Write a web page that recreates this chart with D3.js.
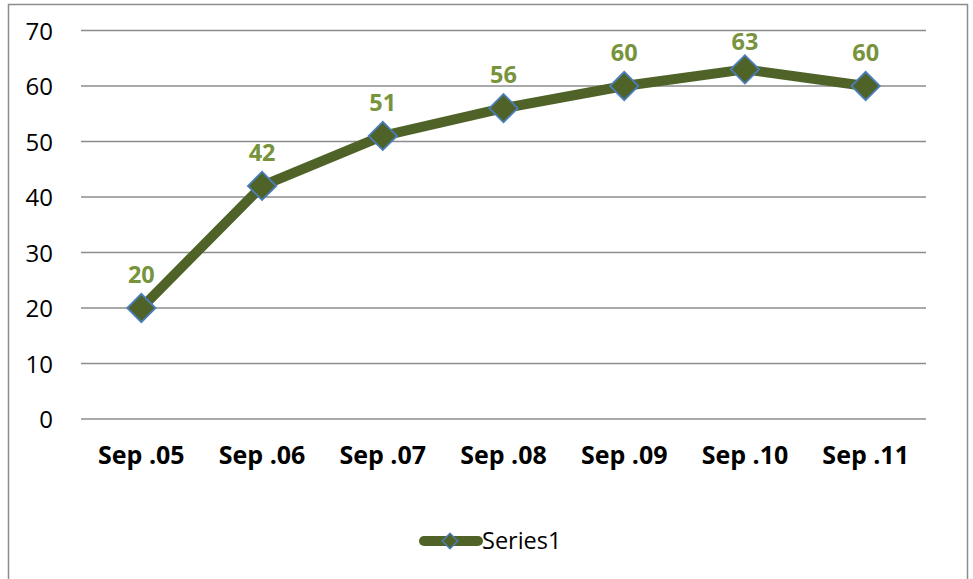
<!DOCTYPE html>
<html>
<head>
<meta charset="utf-8">
<script src="https://cdn.jsdelivr.net/npm/d3@7"></script>
<style>
  body { margin: 0; background: #fff; }
  svg { display: block; font-family: "Open Sans", sans-serif; }
</style>
</head>
<body>
<svg width="973" height="579"></svg>
<script>
// chart data
var categories = ["Sep .05", "Sep .06", "Sep .07", "Sep .08", "Sep .09", "Sep .10", "Sep .11"];
var series1 = [20, 42, 51, 56, 60, 63, 60];
var yTicks = [0, 10, 20, 30, 40, 50, 60, 70];

var lineColor = "#4f6228";
var labelColor = "#77933c";
var markerStroke = "#4a7ebb";
var font = "'Open Sans', sans-serif";

var svg = d3.select("svg");

// outer frame (bottom edge runs off the picture)
svg.append("rect")
  .attr("x", 8.5).attr("y", 4.5)
  .attr("width", 959).attr("height", 600)
  .attr("fill", "none").attr("stroke", "#8c8c8c").attr("stroke-width", 1.5);

var x = d3.scaleBand().domain(categories).range([81, 926]);
var y = d3.scaleLinear().domain([0, 70]).range([419, 30.5]);

// gridlines
svg.append("g")
  .selectAll("line")
  .data(yTicks)
  .enter()
    .append("line")
      .attr("x1", 81).attr("x2", 926)
      .attr("y1", function(d) { return y(d); })
      .attr("y2", function(d) { return y(d); })
      .attr("stroke", "#8c8c8c").attr("stroke-width", 1.5);

// y axis labels
var yAxis = d3.axisLeft(y).tickValues(yTicks).tickSize(0).tickPadding(28);
var gy = svg.append("g").attr("transform", "translate(81,0)").call(yAxis);
gy.select(".domain").remove();
gy.selectAll("text").attr("font-size", 24).attr("font-family", font).attr("fill", "#000")
  .attr("dy", "0.36em");

// x axis labels
var xAxis = d3.axisBottom(x).tickSize(0);
var gx = svg.append("g").attr("transform", "translate(0,419)").call(xAxis);
gx.select(".domain").remove();
gx.selectAll("text").attr("font-size", 25).attr("font-weight", "bold")
  .attr("font-family", font).attr("fill", "#000")
  .attr("y", 45).attr("dy", null);

var cx = function(d, i) { return x(categories[i]) + x.bandwidth() / 2; };

// series line
var line = d3.line()
  .x(function(d, i) { return cx(d, i); })
  .y(function(d) { return y(d); });

svg.append("path")
  .datum(series1)
  .attr("d", line)
  .attr("fill", "none")
  .attr("stroke", lineColor)
  .attr("stroke-width", 10)
  .attr("stroke-linejoin", "round");

// diamond markers
var diamond = d3.symbol().type(d3.symbolSquare).size(400);
svg.append("g")
  .selectAll("path")
  .data(series1)
  .enter()
    .append("path")
      .attr("d", diamond)
      .attr("transform", function(d, i) { return "translate(" + cx(d, i) + "," + y(d) + ") rotate(45)"; })
      .attr("fill", lineColor)
      .attr("stroke", markerStroke)
      .attr("stroke-width", 1.8);

// data labels, kept inside the plot area
svg.append("g")
  .selectAll("text")
  .data(series1)
  .enter()
    .append("text")
      .attr("x", function(d, i) { return cx(d, i); })
      .attr("y", function(d) { return Math.max(y(d) - 25, y(70) + 19); })
      .attr("text-anchor", "middle")
      .attr("font-size", 23.5)
      .attr("font-weight", "bold")
      .attr("font-family", font)
      .attr("fill", labelColor)
      .text(function(d) { return d; });

// legend
var lg = svg.append("g").attr("transform", "translate(0,541)");
lg.append("line")
  .attr("x1", 424).attr("x2", 478)
  .attr("stroke", lineColor).attr("stroke-width", 10).attr("stroke-linecap", "round");
lg.append("path")
  .attr("d", d3.symbol().type(d3.symbolSquare).size(120))
  .attr("transform", "translate(450,0) rotate(45)")
  .attr("fill", lineColor).attr("stroke", markerStroke).attr("stroke-width", 1.5);
lg.append("text")
  .attr("x", 482).attr("y", 8)
  .attr("font-size", 23.5)
  .attr("font-family", font)
  .attr("fill", "#000")
  .text("Series1");
</script>
</body>
</html>
